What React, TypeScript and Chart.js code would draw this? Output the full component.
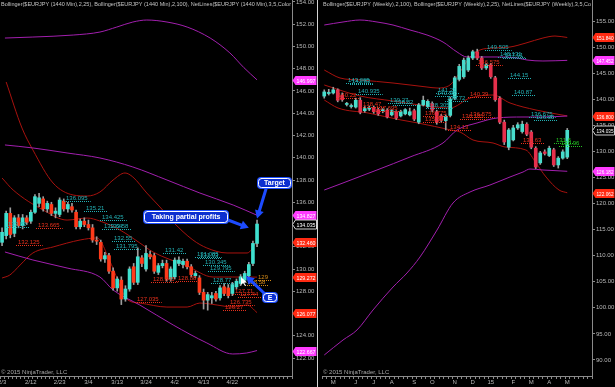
import React, { useEffect, useRef } from "react";
import { Chart, registerables } from "chart.js";

Chart.register(...registerables);

const FONT = '"Liberation Sans", Arial, sans-serif';

// ================= LEFT PANEL : $EURJPY daily (1440 Min) =================
const dailyDates = ["2/3","2/4","2/5","2/6","2/9","2/10","2/11","2/12","2/13","2/16","2/17","2/18","2/19","2/20","2/23","2/24","2/25","2/26","2/27","3/2","3/3","3/4","3/5","3/6","3/9","3/10","3/11","3/12","3/13","3/16","3/17","3/18","3/19","3/20","3/23","3/24","3/25","3/26","3/27","3/30","3/31","4/1","4/2","4/3","4/6","4/7","4/8","4/9","4/10","4/13","4/14","4/15","4/16","4/17","4/20","4/21","4/22","4/23","4/24","4/27","4/28","4/29","4/30","5/1","5/4","5/5","5/6","5/7","5/8","5/11","5/12"];
const dailyTickLabels = ["2/3","2/12","2/23","3/4","3/13","3/24","4/2","4/13","4/22"];
const dailyYTicks = [122,124,126,128,130,132,134,136,138,140,142,144,146,148,150,152,154];

const dailyOpen  = [132.4,133.0,135.0,133.2,134.6,133.9,134.6,134.3,135.1,135.9,136.3,135.4,135.8,135.0,134.9,136.1,135.4,135.6,135.1,133.8,134.3,134.0,133.7,132.6,132.4,130.9,131.2,129.8,128.3,129.0,127.3,128.2,130.2,128.8,131.0,130.0,131.3,131.2,129.7,130.3,130.5,129.1,129.3,130.5,130.4,130.7,130.2,129.4,129.2,127.9,127.2,127.4,127.8,127.4,128.4,128.3,127.8,128.4,128.7,129.0,129.4,130.5,132.3];
const dailyHigh  = [133.7,135.2,135.5,134.8,134.9,134.9,134.8,135.3,136.7,136.8,136.5,136.1,136.0,135.5,136.4,136.3,136.0,135.9,135.3,134.5,134.6,134.4,134.0,132.9,132.6,131.5,131.4,130.1,129.3,129.3,128.5,130.2,130.5,131.9,131.2,132.1,131.6,131.4,130.5,130.8,130.8,130.2,131.0,131.1,130.9,130.9,130.4,129.8,129.4,128.2,127.9,127.9,128.0,128.5,128.7,128.6,128.8,129.1,129.5,129.8,130.6,132.5,134.4];
const dailyLow   = [132.1,132.7,132.8,132.9,133.7,133.6,134.0,134.1,135.0,135.6,135.2,135.1,134.8,134.6,134.7,135.2,135.1,135.1,133.6,133.6,133.8,133.5,132.4,132.2,130.7,130.6,129.6,128.1,128.0,126.8,127.1,128.0,128.6,128.6,130.2,129.8,130.9,129.6,129.5,130.1,128.9,128.9,129.1,130.3,130.1,130.0,129.3,129.2,127.7,126.4,126.3,126.9,127.1,127.2,127.6,127.4,127.6,128.2,128.5,128.8,129.2,130.3,132.0];
const dailyClose = [133.3,135.0,133.1,134.6,133.9,134.6,134.2,135.1,136.5,136.4,135.4,135.9,135.0,135.2,136.2,135.4,135.8,135.3,133.8,134.3,134.0,133.7,132.6,132.5,130.9,131.2,129.8,128.3,129.1,127.3,128.2,130.0,128.8,131.1,130.5,131.4,131.1,129.8,130.3,130.5,129.1,130.0,130.8,130.8,130.7,130.2,129.5,129.6,127.9,127.2,127.7,127.6,127.3,128.3,127.8,127.6,128.6,128.9,129.3,129.6,130.4,132.3,134.04];

// Bollinger (2,100) – purple ; [bar index, price]
const dailyBB100Upper: [number, number][] = [[0.7,150.76],[7.5,150.85],[17.3,151.03],[23.8,151.3],[27.9,151.75],[31.8,152.2],[35.2,152.38],[40.1,152.2],[45,151.75],[50.6,150.76],[55.4,149.42],[58.8,148.1],[62,147.0]];
const dailyBB100Mid: [number, number][] = [[0.7,141.15],[7.5,140.88],[15.8,140.43],[23.8,139.98],[31.8,139.17],[40.1,138.0],[48.1,136.83],[56.2,135.75],[62,134.83]];
const dailyBB100Lower: [number, number][] = [[0.7,131.53],[7.5,130.81],[15.8,130.09],[23.8,129.28],[27,128.11],[33.5,126.76],[41.6,124.97],[49.8,123.35],[56.1,122.36],[59.5,122.45],[62,122.67]];
// Bollinger (2,25) – dark red
const dailyBB25Upper: [number, number][] = [[1,146.81],[4.85,142.67],[7.5,140.7],[12.4,137.73],[17.3,136.65],[20.7,136.56],[23.8,136.92],[27,138.0],[29.9,138.63],[31.8,138.27],[35.2,136.83],[38.4,135.57],[41.6,134.22],[46.4,132.61],[49.8,131.89],[54.7,131.44],[59.6,131.44],[62,132.46]];
const dailyBB25Mid: [number, number][] = [[0,138.18],[2.7,137.1],[10,135.3],[15.8,134.4],[20.7,134.58],[23.8,134.31],[28.7,133.5],[33.5,132.34],[36.7,131.53],[45,130.27],[51.3,129.28],[56.1,129.28],[62,129.27]];
const dailyBB25Lower: [number, number][] = [[0,129.19],[1.9,129.46],[4.4,130.36],[7.5,131.44],[12.4,131.98],[19,132.61],[23.1,132.79],[26.3,130.63],[30.6,127.21],[33.5,126.94],[40.1,126.58],[45,126.58],[48.1,126.94],[52.3,126.76],[56.1,126.58],[59.6,126.76],[62,126.08]];

// NetLines labels : [bar index, price, text]
const dailyNetCyan: [number, number, string][] = [[1.4,133.82,"133.82"],[15.5,136.095,"136.095"],[20.4,135.21,"135.21"],[24.3,134.425,"134.425"],[24.8,133.64,"133.64"],[26.2,133.58,"133.58"],[27.2,132.55,"132.55"],[27.7,131.795,"131.795"],[39.6,131.42,"131.42"],[47.4,131.085,"131.085"],[48.1,131.03,"131.03"],[49.3,130.345,"130.345"],[50.6,129.795,"129.795"],[51.3,128.77,"128.77"]];
const dailyNetRed: [number, number, string][] = [[3.9,132.125,"132.125"],[8.7,133.665,"133.665"],[32.8,127.035,"127.035"],[36.7,128.845,"128.845"],[42.8,128.88,"128.88"],[54.2,126.27,"126.27"],[55.4,126.735,"126.735"],[56.6,127.71,"127.71"],[57.9,127.44,"127.44"]];
const dailyNetOrange: [number, number, string][] = [[59.6,128.58,"128.58"],[62.2,129.0,"129"]];

const dailyTagValues = [146.997,134.827,134.035,132.46,129.272,126.077,122.667];
const dailyTagKinds = ["m","m","k","r","r","r","m"];

const calloutTexts = ["Target","Taking partial profits","E"];
const calloutIdx = [62,60.0,59.3];
const calloutPrice = [134.55,133.7,129.37];

// ================= RIGHT PANEL : $EURJPY weekly =================
const weeklyDates = ["4/18/14","4/25/14","5/2/14","5/9/14","5/16/14","5/23/14","5/30/14","6/6/14","6/13/14","6/20/14","6/27/14","7/4/14","7/11/14","7/18/14","7/25/14","8/1/14","8/8/14","8/15/14","8/22/14","8/29/14","9/5/14","9/12/14","9/19/14","9/26/14","10/3/14","10/10/14","10/17/14","10/24/14","10/31/14","11/7/14","11/14/14","11/21/14","11/28/14","12/5/14","12/12/14","12/19/14","12/26/14","1/2/15","1/9/15","1/16/15","1/23/15","1/30/15","2/6/15","2/13/15","2/20/15","2/27/15","3/6/15","3/13/15","3/20/15","3/27/15","4/3/15","4/10/15","4/17/15","4/24/15","5/1/15","5/8/15","5/15/15","5/22/15","5/29/15","6/5/15"];
const weeklyTickDates = ["5/2/14","6/6/14","7/4/14","8/1/14","9/5/14","10/3/14","11/7/14","12/5/14","1/2/15","2/6/15","3/6/15","4/3/15","5/1/15"];
const weeklyTickText = ["M","J","J","A","S","O","N","D","15","F","M","A","M"];
const weeklyYTicks = [90,95,100,105,110,115,120,125,130,135,140,145,150,155];

const weeklyOpen  = [140.6,141.1,141.2,141.8,140.8,139.0,138.6,138.5,139.8,137.8,138.1,138.4,138.0,137.8,137.9,137.0,137.6,136.8,137.2,137.0,137.8,135.6,138.9,138.6,139.2,137.6,136.8,135.9,136.9,140.2,143.8,144.3,145.6,147.9,149.1,147.9,146.0,146.6,144.1,140.2,135.6,130.8,132.2,134.5,133.8,135.2,133.7,130.6,127.8,129.9,129.2,130.3,127.4,128.7,128.9];
const weeklyHigh  = [141.8,141.9,142.3,142.0,141.2,139.4,139.1,140.2,140.3,138.6,138.7,138.7,138.3,138.2,138.2,138.0,137.8,137.9,138.2,138.3,138.1,139.2,140.6,139.9,139.5,137.9,137.1,137.0,140.4,144.4,146.7,147.9,148.3,149.4,149.6,148.2,146.9,146.9,144.4,140.5,136.0,134.4,135.0,135.5,135.8,135.5,134.0,130.9,130.0,130.3,131.0,130.6,129.0,130.3,134.4];
const weeklyLow   = [140.2,140.8,141.0,139.5,139.6,138.7,138.3,138.3,137.2,137.5,137.8,137.3,136.9,137.4,136.4,136.8,136.1,136.6,137.0,136.8,135.9,135.3,138.7,138.4,137.6,135.2,135.6,134.1,136.6,139.9,143.5,144.0,145.3,147.6,147.6,145.7,145.7,144.0,139.6,135.3,131.3,130.3,132.0,134.2,133.5,133.0,130.5,126.7,127.5,129.3,129.0,127.1,126.8,128.5,128.6];
const weeklyClose = [141.4,141.3,141.8,139.8,139.9,139.1,138.8,139.8,137.5,138.2,138.3,137.6,137.2,138.0,136.6,137.8,136.4,137.6,138.0,137.6,136.2,138.9,139.8,139.6,137.9,135.6,136.0,136.7,140.0,144.1,146.3,147.5,147.9,149.1,147.9,146.0,146.6,144.3,139.9,135.6,131.8,134.1,134.5,135.1,135.2,133.3,130.8,127.0,129.7,129.6,130.6,127.4,128.7,129.9,134.04];

const weeklyBB100Upper: [number, number][] = [[0,154.23],[4.17,154.81],[7.94,155.19],[11.72,154.81],[15.28,154.23],[19.06,153.27],[22.83,152.32],[26.39,150.97],[29.5,149.06],[31.72,148.1],[33.94,148.1],[38.39,148.1],[42.83,147.91],[45.06,147.52],[48.6,147.33],[54,147.45]];
const weeklyBB100Mid: [number, number][] = [[0,122.59],[4.17,123.94],[11.72,126.43],[19.06,128.92],[26.39,131.61],[29.5,134.1],[33.94,135.44],[38.39,136.4],[44.17,136.59],[48.6,136.59],[54,136.78]];
const weeklyBB100Lower: [number, number][] = [[0,90.95],[4.17,93.83],[7.28,95.75],[10.83,99.58],[15.28,103.99],[18.39,106.68],[21.28,109.75],[25.06,114.92],[28.61,120.1],[32.39,122.21],[36.83,123.55],[41.28,125.09],[44.17,126.04],[45.72,126.62],[48.6,126.43],[54,126.18]];
const weeklyBB25Upper: [number, number][] = [[0,145.6],[3.5,144.07],[7.94,143.69],[15.28,143.11],[19.06,142.73],[22.83,142.34],[25.06,142.15],[27.94,142.73],[30.17,145.22],[32.39,148.1],[34.61,149.44],[37.5,149.82],[41.28,150.01],[44.83,150.78],[48.6,151.74],[51.28,152.12],[54,151.84]];
const weeklyBB25Mid: [number, number][] = [[0,142.73],[7.94,140.62],[15.28,139.66],[22.83,138.7],[27.94,138.32],[32.39,140.23],[37.5,140.81],[41.28,139.28],[47.06,137.93],[54,136.8]];
const weeklyBB25Lower: [number, number][] = [[0,139.85],[3.06,138.32],[9.72,137.36],[17.06,136.02],[20.83,135.44],[28.17,134.1],[30.17,133.72],[33.06,132.18],[37.5,131.61],[40.17,130.84],[44.83,130.26],[47.06,127.77],[49.28,125.09],[52.17,122.59],[54,122.06]];

const weeklyNetCyan: [number, number, string][] = [[5.28,143.065,"143.065"],[6.17,142.83,"142.83"],[7.5,140.935,"140.935"],[14.61,139.27,"139.27"],[15.72,138.82,"138.82"],[23.06,138.305,"138.305"],[25.06,140.55,"140.55"],[25.28,141.21,"141.21"],[27.28,139.72,"139.72"],[36.17,149.505,"149.505"],[39.06,148.131,"148.131"],[40.17,147.91,"147.91"],[41.28,144.15,"144.15"],[42.17,140.87,"140.87"],[45.94,136.675,"136.675"],[47.06,136.05,"136.05"]];
const weeklyNetRed: [number, number, string][] = [[3.06,140.22,"140.22"],[8.61,138.47,"138.47"],[11.5,137.695,"137.695"],[22.39,136.775,"136.775"],[22.39,135.55,"135.55"],[27.94,134.13,"134.13"],[30.61,136.185,"136.185"],[32.39,136.575,"136.575"],[32.39,140.39,"140.39"],[34.17,146.575,"146.575"],[44.17,131.63,"131.63"]];
const weeklyNetGreen: [number, number, string][] = [[51.5,131.6,"131.6"],[52.6,130.96,"130.96"]];

const weeklyTagValues = [151.84,147.452,136.8,134.035,126.182,122.062];
const weeklyTagKinds = ["r","m","r","k","m","r"];

const dailyHeader = "Bollinger($EURJPY (1440 Min),2,25), Bollinger($EURJPY (1440 Min),2,100), NetLines($EURJPY (1440 Min),3,5,Color";
const weeklyHeader = "Bollinger($EURJPY (Weekly),2,100), Bollinger($EURJPY (Weekly),2,25), NetLines($EURJPY (Weekly),3,5,Co";
const copyright = "© 2015 NinjaTrader, LLC";

// ================= helpers =================
const PURPLE = "#a21fae";
const DARKRED = "#a8120e";
const AXIS = "#8a8a8a";
const TICKTXT = "#b8b8b8";

function candleSets(open: number[], high: number[], low: number[], close: number[], up: string, down: string) {
  const colors = open.map((o, i) => (close[i] >= o ? up : down));
  return [
    {
      type: "bar", label: "body",
      data: open.map((o, i) => [o, close[i]]),
      backgroundColor: colors, borderWidth: 0, barThickness: 3, minBarLength: 1,
      grouped: false, order: 1, xAxisID: "x", yAxisID: "y",
    },
    {
      type: "bar", label: "wick",
      data: low.map((l, i) => [l, high[i]]),
      backgroundColor: "#9c9c9c", borderWidth: 0, barThickness: 1,
      grouped: false, order: 2, xAxisID: "x", yAxisID: "y",
    },
  ];
}

function lineSet(pts: [number, number][], color: string) {
  return {
    type: "line", label: "",
    data: pts.map(([x, y]) => ({ x, y })),
    xAxisID: "xl", yAxisID: "y",
    borderColor: color, borderWidth: 1, pointRadius: 0,
    tension: 0.4, cubicInterpolationMode: "monotone", fill: false, order: 3,
  };
}

type NetGroup = { pts: [number, number, string][]; color: string };

function drawArrow(ctx: CanvasRenderingContext2D, tx: number, ty: number, ex: number, ey: number) {
  const ang = Math.atan2(ey - ty, ex - tx);
  const hl = 8, hw = 4.5;
  ctx.strokeStyle = "#1d4bff";
  ctx.fillStyle = "#1d4bff";
  ctx.lineWidth = 3;
  ctx.lineCap = "round";
  ctx.beginPath();
  ctx.moveTo(tx, ty);
  ctx.lineTo(ex - Math.cos(ang) * hl * 0.8, ey - Math.sin(ang) * hl * 0.8);
  ctx.stroke();
  ctx.beginPath();
  ctx.moveTo(ex, ey);
  ctx.lineTo(ex - hl * Math.cos(ang) + hw * Math.sin(ang), ey - hl * Math.sin(ang) - hw * Math.cos(ang));
  ctx.lineTo(ex - hl * Math.cos(ang) - hw * Math.sin(ang), ey - hl * Math.sin(ang) + hw * Math.cos(ang));
  ctx.closePath();
  ctx.fill();
}

function overlay(o: {
  header: string; nets: NetGroup[]; tagValues: number[]; tagKinds: string[]; tagW: number; callouts: boolean;
}) {
  return {
    id: "overlay",
    afterDatasetsDraw(chart: any) {
      const ctx: CanvasRenderingContext2D = chart.ctx;
      const xs = chart.scales.xl, ys = chart.scales.y;
      ctx.save();
      ctx.font = `6px ${FONT}`;
      ctx.textAlign = "left";
      ctx.textBaseline = "alphabetic";
      ctx.lineWidth = 1;
      for (const g of o.nets) {
        ctx.fillStyle = g.color;
        ctx.strokeStyle = g.color;
        for (const [i, p, t] of g.pts) {
          const x = Math.round(xs.getPixelForValue(i));
          const y = Math.round(ys.getPixelForValue(p)) + 0.5;
          const w = ctx.measureText(t).width;
          ctx.fillText(t, x, y - 1.5);
          ctx.setLineDash([1, 1]);
          ctx.beginPath();
          ctx.moveTo(x - 2, y);
          ctx.lineTo(x + w + 3, y);
          ctx.stroke();
        }
      }
      ctx.restore();
    },
    afterDraw(chart: any) {
      const ctx: CanvasRenderingContext2D = chart.ctx;
      const a = chart.chartArea;
      const xs = chart.scales.xl, ys = chart.scales.y;
      ctx.save();
      // header
      ctx.font = `6px ${FONT}`;
      ctx.fillStyle = "#c4c4c4";
      ctx.textAlign = "left";
      ctx.textBaseline = "top";
      ctx.fillText(o.header, a.left + 1, 1.5, a.right - a.left - 2);
      // copyright
      ctx.fillStyle = "#a8a8a8";
      ctx.textBaseline = "bottom";
      ctx.fillText(copyright, a.left + 1, a.bottom - 1);
      // price tags on the axis
      for (let k = 0; k < o.tagValues.length; k++) {
        const v = o.tagValues[k];
        const kind = o.tagKinds[k];
        const y = Math.round(ys.getPixelForValue(v)) + 0.5;
        const x0 = a.right + 0.5;
        const w = o.tagW;
        ctx.beginPath();
        ctx.moveTo(x0, y);
        ctx.lineTo(x0 + 3, y - 4.5);
        ctx.lineTo(x0 + w, y - 4.5);
        ctx.lineTo(x0 + w, y + 4.5);
        ctx.lineTo(x0 + 3, y + 4.5);
        ctx.closePath();
        ctx.fillStyle = kind === "m" ? "#ff3cff" : kind === "r" ? "#ff2a12" : "#000000";
        ctx.fill();
        if (kind === "k") {
          ctx.strokeStyle = "#d0d0d0";
          ctx.lineWidth = 1;
          ctx.stroke();
        }
        ctx.fillStyle = "#ffffff";
        ctx.font = `6px ${FONT}`;
        ctx.textBaseline = "middle";
        ctx.fillText(v.toFixed(3), x0 + 4, y + 0.5, w - 5);
      }
      // callouts
      if (o.callouts) {
        const boxes = [[257, 177, 35, 12], [143, 210, 86, 14], [262, 292, 16, 11]];
        const tails = [[266, 189], [228, 220], [264, 293]];
        for (let k = 0; k < calloutTexts.length; k++) {
          const ex = xs.getPixelForValue(calloutIdx[k]);
          const ey = ys.getPixelForValue(calloutPrice[k]);
          drawArrow(ctx, tails[k][0], tails[k][1], ex, ey);
        }
        // mouse pointer near the entry
        ctx.fillStyle = "#ffffff";
        ctx.beginPath();
        const cx = 241, cy = 277;
        ctx.moveTo(cx, cy); ctx.lineTo(cx, cy + 8); ctx.lineTo(cx + 2, cy + 6); ctx.lineTo(cx + 4, cy + 9);
        ctx.lineTo(cx + 5, cy + 8.5); ctx.lineTo(cx + 3, cy + 5.5); ctx.lineTo(cx + 6, cy + 5.5); ctx.closePath();
        ctx.fill();
        for (let k = 0; k < calloutTexts.length; k++) {
          const [bx, by, bw, bh] = boxes[k];
          ctx.beginPath();
          (ctx as any).roundRect(bx, by, bw, bh, 4);
          ctx.fillStyle = "#1f4fff";
          ctx.fill();
          ctx.beginPath();
          (ctx as any).roundRect(bx + 1.5, by + 1.5, bw - 3, bh - 3, 3);
          ctx.fillStyle = "#0c2fd0";
          ctx.fill();
          ctx.strokeStyle = "#ffffff";
          ctx.lineWidth = 1;
          ctx.stroke();
          ctx.fillStyle = "#ffffff";
          ctx.font = `bold 7px ${FONT}`;
          ctx.textAlign = "center";
          ctx.textBaseline = "middle";
          ctx.fillText(calloutTexts[k], bx + bw / 2, by + bh / 2 + 0.5);
          ctx.textAlign = "left";
        }
      }
      ctx.restore();
    },
  };
}

function baseScales(labels: string[], tickFn: (lab: string) => string, n: number, ymin: number, ymax: number, yticks: number[], yWidth: number) {
  return {
    x: {
      type: "category",
      offset: true,
      grid: { offset: true, drawOnChartArea: false, drawTicks: true, tickLength: 3, color: AXIS },
      border: { display: true, color: AXIS },
      ticks: {
        autoSkip: false, maxRotation: 0, minRotation: 0, padding: 0,
        color: TICKTXT, font: { size: 6, family: FONT },
        callback: (_v: any, i: number) => tickFn(labels[i]),
      },
      afterFit: (s: any) => { s.height = 11; s.paddingLeft = 0; s.paddingRight = 0; },
    },
    xl: {
      type: "linear", position: "bottom", display: false, offset: false,
      grid: { offset: false }, min: -0.5, max: n - 0.5, bounds: "data",
    },
    y: {
      type: "linear", position: "right", min: ymin, max: ymax, bounds: "data",
      afterBuildTicks: (s: any) => { s.ticks = yticks.map((v) => ({ value: v })); },
      grid: { drawOnChartArea: false, drawTicks: true, tickLength: 3, color: AXIS },
      border: { display: true, color: AXIS },
      ticks: {
        padding: 1, color: TICKTXT, font: { size: 6, family: FONT },
        callback: (v: any) => Number(v).toFixed(2),
      },
      afterFit: (s: any) => { s.width = yWidth; s.paddingTop = 0; s.paddingBottom = 0; },
    },
  };
}

function dailyConfig(): any {
  return {
    type: "bar",
    data: {
      labels: dailyDates,
      datasets: [
        ...candleSets(dailyOpen, dailyHigh, dailyLow, dailyClose, "#3fe0cf", "#ff3a1a"),
        lineSet(dailyBB100Upper, PURPLE), lineSet(dailyBB100Mid, PURPLE), lineSet(dailyBB100Lower, PURPLE),
        lineSet(dailyBB25Upper, DARKRED), lineSet(dailyBB25Mid, DARKRED), lineSet(dailyBB25Lower, DARKRED),
      ],
    },
    options: {
      responsive: false, animation: false, devicePixelRatio: 1, events: [],
      layout: { padding: 0, autoPadding: false },
      plugins: { legend: { display: false }, tooltip: { enabled: false }, title: { display: false } },
      scales: baseScales(dailyDates, (l) => (dailyTickLabels.includes(l) ? l : ""), dailyDates.length, 154 - 374 / 11.125, 154 + 2 / 11.125, dailyYTicks, 26),
    },
    plugins: [overlay({
      header: dailyHeader,
      nets: [{ pts: dailyNetCyan, color: "#23b0b4" }, { pts: dailyNetRed, color: "#e8301c" }, { pts: dailyNetOrange, color: "#d48a18" }],
      tagValues: dailyTagValues, tagKinds: dailyTagKinds, tagW: 24, callouts: true,
    })],
  };
}

function weeklyConfig(): any {
  return {
    type: "bar",
    data: {
      labels: weeklyDates,
      datasets: [
        ...candleSets(weeklyOpen, weeklyHigh, weeklyLow, weeklyClose, "#48dccc", "#e5304c"),
        lineSet(weeklyBB100Upper, PURPLE), lineSet(weeklyBB100Mid, PURPLE), lineSet(weeklyBB100Lower, PURPLE),
        lineSet(weeklyBB25Upper, DARKRED), lineSet(weeklyBB25Mid, DARKRED), lineSet(weeklyBB25Lower, DARKRED),
      ],
    },
    options: {
      responsive: false, animation: false, devicePixelRatio: 1, events: [],
      layout: { padding: { left: 3, right: 0, top: 0, bottom: 0 }, autoPadding: false },
      plugins: { legend: { display: false }, tooltip: { enabled: false }, title: { display: false } },
      scales: baseScales(weeklyDates, (l) => { const k = weeklyTickDates.indexOf(l); return k >= 0 ? weeklyTickText[k] : ""; }, weeklyDates.length, 155 - 355 / 5.215, 155 + 21 / 5.215, weeklyYTicks, 23),
    },
    plugins: [overlay({
      header: weeklyHeader,
      nets: [{ pts: weeklyNetCyan, color: "#23b0b4" }, { pts: weeklyNetRed, color: "#e8301c" }, { pts: weeklyNetGreen, color: "#22c422" }],
      tagValues: weeklyTagValues, tagKinds: weeklyTagKinds, tagW: 22, callouts: false,
    })],
  };
}

function Panel({ make, left, width }: { make: () => any; left: number; width: number }) {
  const ref = useRef<HTMLCanvasElement>(null);
  useEffect(() => {
    if (!ref.current) return;
    const chart = new Chart(ref.current, make());
    return () => chart.destroy();
  }, []);
  return (
    <canvas
      ref={ref}
      width={width}
      height={387}
      style={{ position: "absolute", left, top: 0, width, height: 387, display: "block" }}
    />
  );
}

export default function App() {
  return (
    <div style={{ position: "fixed", left: 0, top: 0, width: 615, height: 387, background: "#000", overflow: "hidden" }}>
      <Panel make={dailyConfig} left={0} width={318} />
      <div style={{ position: "absolute", left: 317, top: 0, width: 1, height: 387, background: "#d4d4d4" }} />
      <Panel make={weeklyConfig} left={319} width={296} />
    </div>
  );
}
